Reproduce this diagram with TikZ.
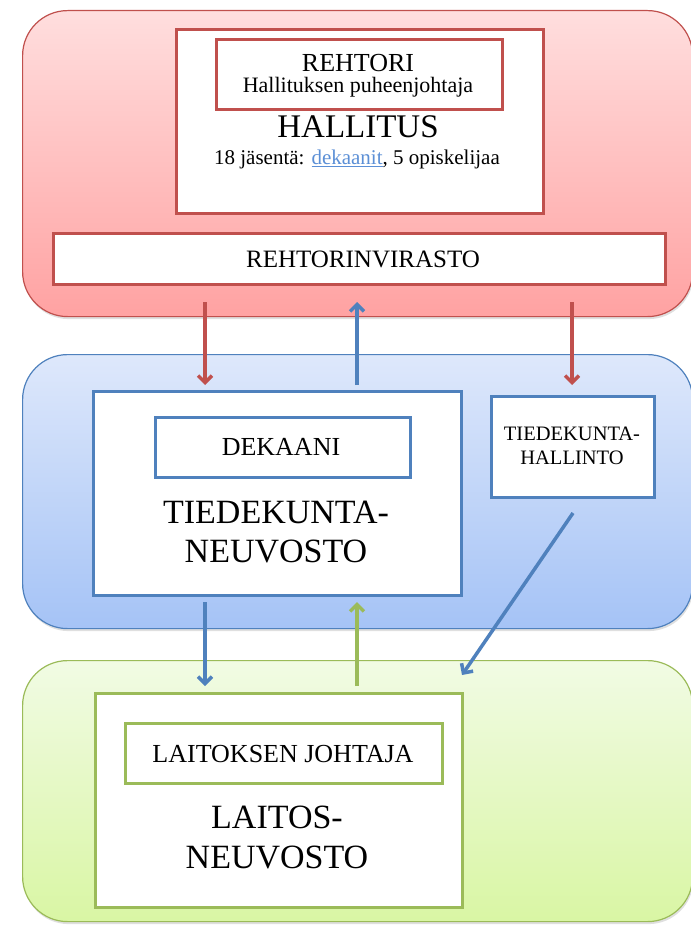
\documentclass[tikz,border=0pt]{standalone}
\usepackage{fontspec}
\setmainfont{Liberation Serif}
\usetikzlibrary{arrows.meta,shadows}
\definecolor{redline}{HTML}{C0504D}
\definecolor{blueline}{HTML}{4F81BD}
\definecolor{greenline}{HTML}{9BBB59}
\definecolor{redtop}{HTML}{FFDEDE}
\definecolor{redbot}{HTML}{FFA2A2}
\definecolor{bluetop}{HTML}{DEE8FB}
\definecolor{bluebot}{HTML}{A5C3F6}
\definecolor{greentop}{HTML}{F1FBE4}
\definecolor{greenbot}{HTML}{D9F6A4}
\definecolor{linkblue}{HTML}{5B8FD6}
\newcommand{\fsz}[1]{\fontsize{#1}{#1}\selectfont}
\begin{document}
\begin{tikzpicture}[x=1pt,y=-1pt,
  panel/.style={draw, line width=1.2pt, rounded corners=45pt, anchor=north west, inner sep=0pt,
    drop shadow={opacity=0.25, shadow xshift=1pt, shadow yshift=-2.5pt}},
  box/.style={draw, fill=white, line width=3pt, anchor=north west, inner sep=0pt},
  lbl/.style={anchor=base, inner sep=0pt},
  arr/.style={line width=3.5pt, -{Straight Barb[length=7pt,width=14pt]}}]
\useasboundingbox (0,0) rectangle (690,925);
% panels
\node[panel, draw=redline, top color=redtop, bottom color=redbot, minimum width=670pt, minimum height=306pt] (redp) at (22,10) {};
\node[panel, draw=blueline, top color=bluetop, bottom color=bluebot, minimum width=670pt, minimum height=274pt] (bluep) at (22,354) {};
\node[panel, draw=greenline, top color=greentop, bottom color=greenbot, minimum width=670pt, minimum height=261pt] (greenp) at (22,660) {};
% top level
\node[box, draw=redline, minimum width=367pt, minimum height=184pt] (hall) at (175,28) {};
\node[box, draw=redline, minimum width=286pt, minimum height=70pt] (reht) at (215,38) {};
\node[lbl, font=\fsz{26}] (rehtt) at (358,72) {REHTORI};
\node[lbl, font=\fsz{22}] (rehtp) at (358,93) {Hallituksen puheenjohtaja};
\node[lbl, font=\fsz{33}] (hallt) at (358,138) {HALLITUS};
\node[lbl, font=\fsz{21}] (hallj) at (357,165) {18 jäsentä: {\color{linkblue}\underline{dekaanit}}, 5 opiskelijaa};
\node[box, draw=redline, minimum width=612pt, minimum height=51pt] (virasto) at (52,232) {};
\node[lbl, font=\fsz{25}] (virastot) at (363,267) {REHTORINVIRASTO};
% middle level
\node[box, draw=blueline, minimum width=368pt, minimum height=204pt] (tkn) at (92,390) {};
\node[box, draw=blueline, minimum width=255pt, minimum height=60pt] (dek) at (154,416) {};
\node[lbl, font=\fsz{26}] (dekt) at (281,455) {DEKAANI};
\node[lbl, font=\fsz{34}] (tkn1) at (276,523) {TIEDEKUNTA-};
\node[lbl, font=\fsz{34}] (tkn2) at (276,562) {NEUVOSTO};
\node[box, draw=blueline, minimum width=163pt, minimum height=101pt] (tkh) at (490,395) {};
\node[lbl, font=\fsz{20.5}] (tkh1) at (572,440) {TIEDEKUNTA-};
\node[lbl, font=\fsz{20.5}] (tkh2) at (572,464) {HALLINTO};
% bottom level
\node[box, draw=greenline, minimum width=367pt, minimum height=214pt] (ln) at (94,692) {};
\node[box, draw=greenline, minimum width=317pt, minimum height=60pt] (lj) at (124,722) {};
\node[lbl, font=\fsz{26}] (ljt) at (283,762) {LAITOKSEN JOHTAJA};
\node[lbl, font=\fsz{34}] (ln1) at (277,828) {LAITOS-};
\node[lbl, font=\fsz{34}] (ln2) at (277,868) {NEUVOSTO};
% connector ends
\coordinate (a1s) at (205,302); \coordinate (a1e) at (205,385);
\coordinate (a2s) at (357,385); \coordinate (a2e) at (357,302);
\coordinate (a3s) at (572,302); \coordinate (a3e) at (572,385);
\coordinate (a4s) at (205,602); \coordinate (a4e) at (205,686);
\coordinate (a5s) at (357,686); \coordinate (a5e) at (357,602);
\coordinate (a6s) at (573,513); \coordinate (a6e) at (462,675);
\draw[arr, draw=redline] (a1s) -- (a1e);
\draw[arr, draw=blueline] (a2s) -- (a2e);
\draw[arr, draw=redline] (a3s) -- (a3e);
\draw[arr, draw=blueline] (a4s) -- (a4e);
\draw[arr, draw=greenline] (a5s) -- (a5e);
\draw[arr, draw=blueline] (a6s) -- (a6e);
\end{tikzpicture}
\end{document}
